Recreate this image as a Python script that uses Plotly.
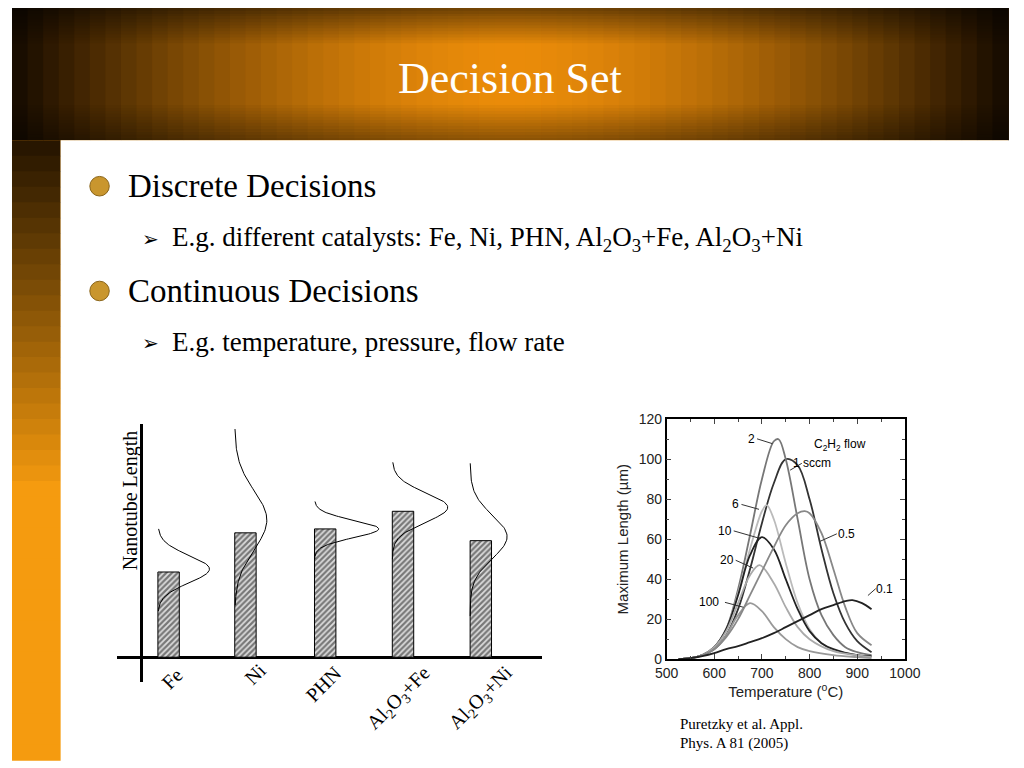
import numpy as np
import plotly.graph_objects as go

# ---- data ----
catalysts = ["Fe", "Ni", "PHN", "Al<sub>2</sub>O<sub>3</sub>+Fe", "Al<sub>2</sub>O<sub>3</sub>+Ni"]
cat_pos = [28, 107, 189, 269, 349]
bar_heights = [87, 127, 131, 149, 119]
dist_top = [131, 233, 159, 199, 198]
dist_bottom = [47, 53, 100, 100, 42]
dist_mean = [90, 140, 131, 153, 123]
dist_sd = [14, 30, 9, 15, 22]
dist_amp = [53, 33, 66, 57, 38]

flows = ["1", "2", "6", "10", "20", "100", "0.5", "0.1"]
temps = {
 "1":  [525,550,575,600,625,650,675,700,725,750,775,800,825,850,875,900,930],
 "2":  [525,550,575,600,625,650,675,700,725,735,750,775,800,825,850,875,900,930],
 "6":  [525,550,575,600,625,650,675,700,710,725,750,775,800,825,850,875,900,930],
 "10": [525,550,575,600,625,650,675,700,725,750,775,800,825,850,900,930],
 "20": [525,550,575,600,625,650,675,695,725,750,775,800,850,900,930],
 "100":[525,550,575,600,625,650,675,700,725,750,775,800,850,900,930],
 "0.5":[525,550,575,600,625,650,675,700,725,750,775,790,800,825,850,875,900,930],
 "0.1":[525,550,575,600,625,650,675,700,725,750,775,800,825,850,875,890,910,930],
}
lengths = {
 "1":  [0,0.5,2,5,12,25,45,68,88,100,97,80,55,33,18,9,3.5],
 "2":  [0,0.5,2,6,15,35,62,90,109,110,100,70,40,22,12,6,3.5,2],
 "6":  [0,0.5,2,6,15,33,55,74,77,70,48,28,15,8,4.5,3,2,1.5],
 "10": [0,0.5,2,6,15,32,52,61,55,40,25,14,8,5,2,1.5],
 "20": [0,0.5,2,6,14,28,42,47,38,26,16,10,4,2,1],
 "100":[0,0.5,2,5,12,22,28,24,16,10,6,4,2,1,0.5],
 "0.5":[0,0.5,2,5,11,20,32,44,56,67,73,74,73,63,45,26,13,7],
 "0.1":[0,0.5,1.5,3,5,6.5,8.5,10.5,13,16,19,22,25,27,29,29.5,28,25],
}
line_colors = {"1":"#333","2":"#777","6":"#bbb","10":"#222","20":"#aaa","100":"#999","0.5":"#888","0.1":"#222"}

fig = go.Figure()

shapes = []
def mix(c1, c2, t):
    return "rgb(%d,%d,%d)" % tuple(int(a + (b - a) * t) for a, b in zip(c1, c2))
dark = (20, 10, 0); orange = (235, 140, 10)
shapes.append(dict(type="rect", xref="paper", yref="paper", x0=0, x1=1, y0=0, y1=1, fillcolor="#F39A10", line_width=0, layer="below"))
n = 64
for i in range(n):
    x0 = i / n; x1 = (i + 1) / n
    d = abs((x0 + x1) / 2 - 0.5) / 0.5
    t = max(0.0, 1 - d ** 1.6)
    shapes.append(dict(type="rect", xref="paper", yref="paper", x0=x0, x1=x1 + 0.001, y0=1 - 135/768, y1=1,
                       fillcolor=mix(dark, orange, t), line_width=0, layer="below"))
for j in range(12):
    shapes.append(dict(type="rect", xref="paper", yref="paper", x0=0, x1=1, y0=1 - (j+1)*3/768, y1=1 - j*3/768,
                       fillcolor="black", opacity=0.5*(1-j/12), line_width=0, layer="below"))
    shapes.append(dict(type="rect", xref="paper", yref="paper", x0=0, x1=1, y0=1-135/768 + j*3/768, y1=1-135/768+(j+1)*3/768,
                       fillcolor="black", opacity=0.4*(1-j/12), line_width=0, layer="below"))
m = 40
for i in range(m):
    y_top = 135 + i * 633 / m; y_bot = 135 + (i + 1) * 633 / m
    t = min(1.0, (i / m) / 0.55)
    shapes.append(dict(type="rect", xref="paper", yref="paper", x0=0, x1=50/1024, y0=1 - y_bot/768 - 0.001, y1=1 - y_top/768,
                       fillcolor=mix((40, 22, 0), (245, 155, 15), t), line_width=0, layer="below"))
shapes.append(dict(type="rect", xref="paper", yref="paper", x0=50/1024, x1=1, y0=0, y1=1-135/768, fillcolor="white", line_width=0, layer="below"))
for yb in [182, 289]:
    shapes.append(dict(type="circle", xref="paper", yref="paper", x0=80/1024, x1=100/1024, y0=1-(yb+10)/768, y1=1-(yb-10)/768,
                       fillcolor="#C9962E", line=dict(color="#8a6418", width=1)))

fig.add_trace(go.Bar(x=cat_pos, y=bar_heights, width=22, marker=dict(color="white", line=dict(color="black", width=1),
                     pattern=dict(shape="/", fgcolor="#111", bgcolor="#ddd", size=4, solidity=0.55)), xaxis="x", yaxis="y", showlegend=False))
for i in range(5):
    ys = np.linspace(dist_top[i], dist_bottom[i], 120)
    left = cat_pos[i] - 11
    xs = left + dist_amp[i] * np.exp(-0.5 * ((ys - dist_mean[i]) / dist_sd[i]) ** 2)
    fig.add_trace(go.Scatter(x=xs, y=ys, mode="lines", line=dict(color="black", width=1), xaxis="x", yaxis="y", showlegend=False))

for f in flows:
    fig.add_trace(go.Scatter(x=temps[f], y=lengths[f], mode="lines", line=dict(color=line_colors[f], width=1.8, shape="spline"),
                             xaxis="x2", yaxis="y2", showlegend=False))

fig.update_layout(
    autosize=True, margin=dict(l=0, r=0, t=0, b=0, pad=0),
    paper_bgcolor="white", plot_bgcolor="rgba(0,0,0,0)", shapes=shapes,
    xaxis=dict(domain=[108/1024, 545/1024], range=[-25, 412], showgrid=False, showticklabels=False, zeroline=True,
               zerolinecolor="black", zerolinewidth=3),
    yaxis=dict(domain=[1-688/768, 1-425/768], range=[-25, 238], showgrid=False, showticklabels=False, zeroline=True,
               zerolinecolor="black", zerolinewidth=3),
    xaxis2=dict(domain=[673/1024, 918/1024], range=[500, 1000], anchor="y2", showgrid=False, zeroline=False,
                showline=True, mirror="ticks", linecolor="black", linewidth=1.5, ticks="inside", ticklen=5,
                tickvals=[500,600,700,800,900,1000], minor=dict(ticks="inside", ticklen=3, dtick=50),
                tickfont=dict(family="Liberation Sans", size=14, color="#222"),
                title=dict(text="Temperature (<sup>o</sup>C)", font=dict(family="Liberation Sans", size=15, color="#222"), standoff=4)),
    yaxis2=dict(domain=[1-665/768, 1-420/768], range=[0, 120], anchor="x2", showgrid=False, zeroline=False,
                showline=True, mirror="ticks", linecolor="black", linewidth=1.5, ticks="inside", ticklen=5,
                dtick=20, minor=dict(ticks="inside", ticklen=3, dtick=10),
                tickfont=dict(family="Liberation Sans", size=14, color="#222"),
                title=dict(text="Maximum Length (µm)", font=dict(family="Liberation Sans", size=15, color="#222"), standoff=6)),
)

ann = []
def A(text, x, y, size, color="black", family="Liberation Serif", xanchor="left", angle=0, **kw):
    ann.append(dict(text=text, x=x/1024, y=1-y/768, xref="paper", yref="paper", showarrow=False, xanchor=xanchor,
                    yanchor="middle", textangle=angle, font=dict(family=family, size=size, color=color), **kw))
A("Decision Set", 512, 72, 44, color="white", xanchor="center")
A("Discrete Decisions", 117, 182, 33)
A("➢", 132, 236, 20, family="DejaVu Sans")
A("E.g. different catalysts: Fe, Ni, PHN, Al<sub>2</sub>O<sub>3</sub>+Fe, Al<sub>2</sub>O<sub>3</sub>+Ni", 162, 236, 27)
A("Continuous Decisions", 117, 289, 33)
A("➢", 132, 342, 20, family="DejaVu Sans")
A("E.g. temperature, pressure, flow rate", 162, 341, 27)
A("Puretzky et al. Appl.", 685, 731, 15)
A("Phys. A 81 (2005)", 685, 751, 15)
A("Nanotube Length", 122, 503, 20, xanchor="center", angle=-90)
for lab, px, py in zip(catalysts, [164, 250, 320, 398, 482], [685, 680, 690, 705, 705]):
    A(lab, px, py, 20, xanchor="center", angle=-45)
for t, x, y in [("2", 760, 440), ("1 sccm", 823, 465), ("6", 744, 507), ("10", 733, 534), ("20", 735, 564),
                ("100", 717, 607), ("0.5", 858, 537), ("0.1", 897, 593)]:
    A(t, x, y, 12, family="Liberation Sans", xanchor="center")
A("C<sub>2</sub>H<sub>2</sub> flow", 822, 446, 12, family="Liberation Sans")
ann_lines = [(766, 440, 782, 445), (812, 465, 800, 472), (750, 507, 768, 512), (742, 534, 770, 542),
             (744, 564, 762, 572), (733, 607, 752, 612), (848, 537, 830, 545), (888, 593, 880, 600)]
for x0, y0, x1, y1 in ann_lines:
    fig.add_shape(type="line", xref="paper", yref="paper", x0=x0/1024, y0=1-y0/768, x1=x1/1024, y1=1-y1/768,
                  line=dict(color="#333", width=1))
fig.update_layout(annotations=ann)
fig.write_html("out.html", default_width="100vw", default_height="100vh",
               config={"responsive": True, "displayModeBar": False},
               post_script="document.body.style.margin='0';document.body.style.padding='0';document.body.style.overflow='hidden';document.documentElement.style.overflow='hidden';window.dispatchEvent(new Event('resize'));")
